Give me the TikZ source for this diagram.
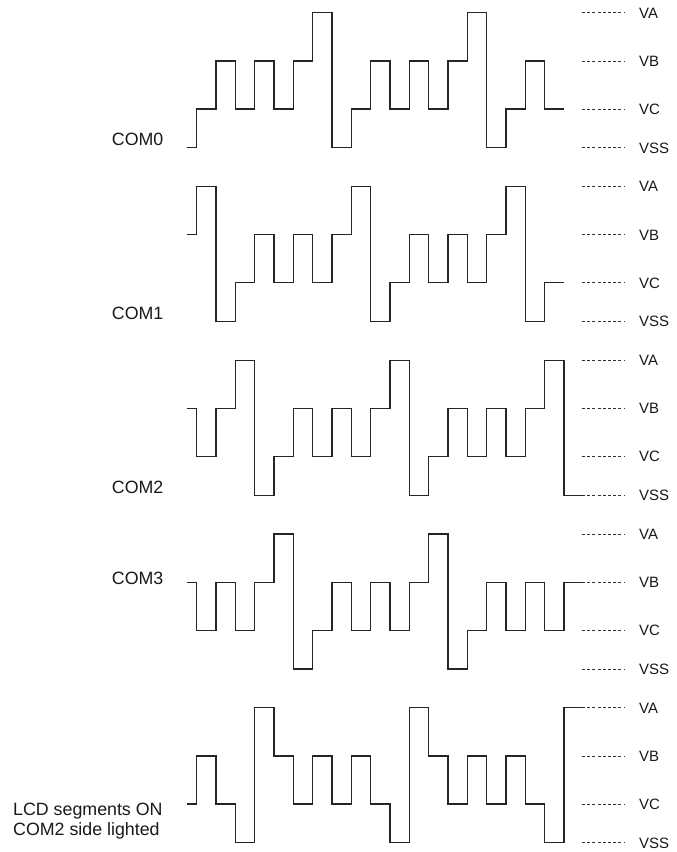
\documentclass[tikz,border=0pt]{standalone}
\usepackage{fontspec}
\setmainfont{Liberation Sans}
\def\qA{0}
\def\qB{48.3}
\def\qC{96.3}
\def\qS{135}
\newcommand\wv[4]{% top, L0, {L1..L20}, tail length
  \draw[wave] (186.7,{#1+#2}) \foreach \l [count=\k] in {#3} { -| ({196.7+(\k-1)*19.33},{#1+\l}) } -- ++(#4,0);
}
\begin{document}
\begin{tikzpicture}[x=1pt,y=-1pt,
  wave/.style={line width=1.15pt, draw=black!85, line join=miter},
  lvl/.style={line width=0.9pt, draw=black!80, dash pattern=on 3pt off 2.2pt},
  comlab/.style={anchor=base west, inner sep=0pt, text=black!90, font=\fontsize{17.8}{20}\selectfont},
  vlab/.style={anchor=base west, inner sep=0pt, text=black!90, font=\fontsize{15}{17}\selectfont}]
\useasboundingbox (0,0) rectangle (677,852);

% waveforms
\wv{12.7}{\qS}{\qC,\qB,\qC,\qB,\qC,\qB,\qA,\qS,\qC,\qB,\qC,\qB,\qC,\qB,\qA,\qS,\qC,\qB,\qC,\qC}{0}
\wv{186.45}{\qB}{\qA,\qS,\qC,\qB,\qC,\qB,\qC,\qB,\qA,\qS,\qC,\qB,\qC,\qB,\qC,\qB,\qA,\qS,\qC,\qC}{0}
\wv{360.2}{\qB}{\qC,\qB,\qA,\qS,\qC,\qB,\qC,\qB,\qC,\qB,\qA,\qS,\qC,\qB,\qC,\qB,\qC,\qB,\qA,\qS}{18.7}
\wv{533.95}{\qB}{\qC,\qB,\qC,\qB,\qA,\qS,\qC,\qB,\qC,\qB,\qC,\qB,\qA,\qS,\qC,\qB,\qC,\qB,\qC,\qB}{18.7}
\wv{707.7}{\qC}{\qB,\qC,\qS,\qA,\qB,\qC,\qB,\qC,\qB,\qC,\qS,\qA,\qB,\qC,\qB,\qC,\qB,\qC,\qS,\qA}{18.7}

% level lines and labels
\foreach \t [count=\g from 0] in {12.7,186.45,360.2,533.95,707.7} {
  \draw[lvl] (582,{\t+\qA}) -- (624,{\t+\qA});
  \draw[lvl] (582,{\t+\qB}) -- (624,{\t+\qB});
  \draw[lvl] (582,{\t+\qC}) -- (624,{\t+\qC});
  \draw[lvl] (582,{\t+\qS}) -- (624,{\t+\qS});
  \node[vlab] (va\g) at (639,{\t+\qA+5.4}) {VA};
  \node[vlab] (vb\g) at (639,{\t+\qB+5.4}) {VB};
  \node[vlab] (vc\g) at (639,{\t+\qC+5.4}) {VC};
  \node[vlab] (vss\g) at (639,{\t+\qS+5.4}) {VSS};
}

% left labels
\node[comlab] (com0) at (111.7,145) {COM0};
\node[comlab] (com1) at (111.7,319.3) {COM1};
\node[comlab] (com2) at (111.7,493.3) {COM2};
\node[comlab] (com3) at (111.7,584.5) {COM3};
\node[comlab] (lcd1) at (13,815) {LCD segments ON};
\node[comlab] (lcd2) at (13,835) {COM2 side lighted};
\end{tikzpicture}
\end{document}
